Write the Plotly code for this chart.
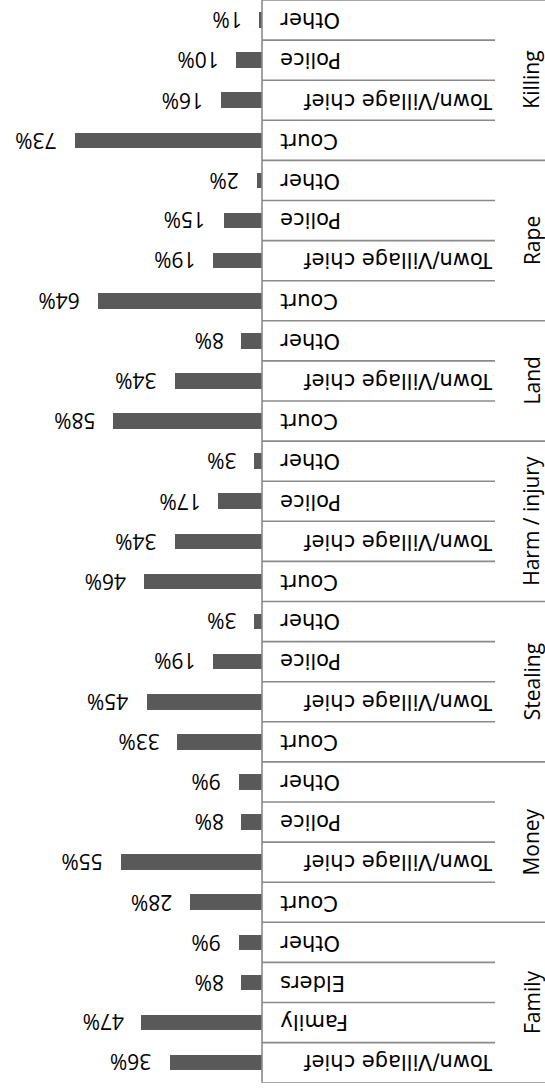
import plotly.graph_objects as go

# ---- data (top to bottom as drawn) ----
groups = ["Killing", "Rape", "Land", "Harm / injury", "Stealing", "Money", "Family"]
killing_cats = ["Other", "Police", "Town/Village chief", "Court"]
killing_vals = [1, 10, 16, 73]
rape_cats = ["Other", "Police", "Town/Village chief", "Court"]
rape_vals = [2, 15, 19, 64]
land_cats = ["Other", "Town/Village chief", "Court"]
land_vals = [8, 34, 58]
harm_cats = ["Other", "Police", "Town/Village chief", "Court"]
harm_vals = [3, 17, 34, 46]
stealing_cats = ["Other", "Police", "Town/Village chief", "Court"]
stealing_vals = [3, 19, 45, 33]
money_cats = ["Other", "Police", "Town/Village chief", "Court"]
money_vals = [9, 8, 55, 28]
family_cats = ["Other", "Elders", "Family", "Town/Village chief"]
family_vals = [9, 8, 47, 36]

group_cats = [killing_cats, rape_cats, land_cats, harm_cats, stealing_cats, money_cats, family_cats]
group_vals = [killing_vals, rape_vals, land_vals, harm_vals, stealing_vals, money_vals, family_vals]

# ---- layout constants ----
W, H = 545, 1092
AXIS_PX = 262.0
PX_PER_UNIT = 2.565
PLOT_BOTTOM_PX = 1082.7
INNER_LINE_END_PX = 495.0
LINE_COLOR = "#8a8a8a"
BAR_COLOR = "#595959"

cats, vals, ypos = [], [], []
group_spans = []
i = 0
for g, cs, vs in zip(groups, group_cats, group_vals):
    start = i
    for c, v in zip(cs, vs):
        cats.append(c)
        vals.append(v)
        ypos.append(i)
        i += 1
    group_spans.append((g, start, i - 1))
n_rows = i

fig = go.Figure()
fig.add_trace(go.Bar(
    x=vals, y=ypos, orientation="h", width=0.39,
    marker=dict(color=BAR_COLOR, line=dict(width=0)),
    hoverinfo="skip", showlegend=False,
))

shapes = []
annotations = []
ax_paper = AXIS_PX / W

# axis line
shapes.append(dict(type="line", xref="paper", yref="y", x0=ax_paper, x1=ax_paper,
                   y0=-0.5, y1=n_rows - 0.5, line=dict(color=LINE_COLOR, width=1.6)))

# group boundaries (full width) and inner row boundaries
group_starts = [s for _, s, _ in group_spans]
for b in range(n_rows + 1):
    yb = b - 0.5
    if b in group_starts or b == n_rows:
        x1 = 1.0
    else:
        x1 = INNER_LINE_END_PX / W
    shapes.append(dict(type="line", xref="paper", yref="y", x0=ax_paper, x1=x1,
                       y0=yb, y1=yb, line=dict(color=LINE_COLOR, width=1.6)))

# category labels (upside down)
for c, y in zip(cats, ypos):
    if len(c) > 10:
        annotations.append(dict(xref="paper", yref="y", x=493 / W, y=y, text=c,
                                showarrow=False, textangle=180, xanchor="right", yanchor="middle",
                                xshift=2,
                                font=dict(family="DejaVu Sans", size=21, color="#000000")))
    else:
        annotations.append(dict(xref="paper", yref="y", x=280 / W, y=y, text=c,
                                showarrow=False, textangle=180, xanchor="left", yanchor="middle",
                                xshift=-2,
                                font=dict(family="DejaVu Sans", size=21, color="#000000")))

# value labels (upside down)
for v, y in zip(vals, ypos):
    annotations.append(dict(xref="x", yref="y", x=v, y=y, text=f"{v}%",
                            showarrow=False, textangle=180, xanchor="right", yanchor="middle",
                            xshift=-16,
                            font=dict(family="Open Sans", size=21, color="#000000")))

# group labels
for g, s, e in group_spans:
    annotations.append(dict(xref="paper", yref="y", x=531.5 / W, y=(s + e) / 2, text=g,
                            showarrow=False, textangle=-90, xanchor="center", yanchor="middle",
                            font=dict(family="Open Sans", size=21, color="#000000")))

left_units = AXIS_PX / PX_PER_UNIT
right_units = -(W - AXIS_PX) / PX_PER_UNIT

fig.update_layout(
    width=W, height=H,
    margin=dict(l=0, r=0, t=0, b=0),
    paper_bgcolor="white", plot_bgcolor="white",
    xaxis=dict(range=[left_units, right_units], domain=[0, 1], visible=False, fixedrange=True),
    yaxis=dict(range=[n_rows - 0.5, -0.5], domain=[(H - PLOT_BOTTOM_PX) / H, 1],
               visible=False, fixedrange=True),
    shapes=shapes,
    annotations=annotations,
    bargap=0,
)

fig.write_html("out.html")
